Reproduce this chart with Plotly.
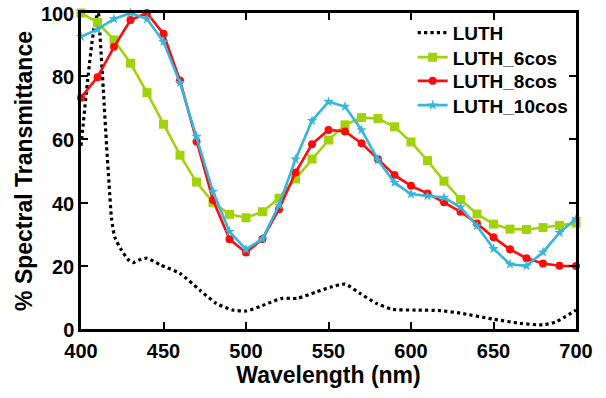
import plotly.graph_objects as go

wl = list(range(400, 701, 10))

luth_6cos = [100, 97.0, 91.5, 84.1, 74.8, 64.8, 55.0, 46.5, 40.0, 36.3, 35.2, 37.1, 41.4, 47.5,
             53.8, 59.8, 64.6, 66.9, 66.6, 64.0, 59.2, 53.3, 46.8, 41.0, 36.4, 33.2, 31.6, 31.5,
             32.1, 32.8, 33.5]
luth_8cos = [73.2, 79.7, 89.3, 97.8, 100, 93.4, 78.6, 59.3, 40.8, 28.4, 24.2, 28.5, 37.9, 49.5,
             58.5, 63.0, 62.5, 58.8, 53.7, 48.7, 45.3, 42.9, 40.1, 37.1, 33.4, 29.0, 25.2, 22.4,
             20.7, 20.0, 19.9]
luth_10cos = [92.5, 94.8, 98.1, 100, 98.1, 90.9, 77.9, 60.9, 43.5, 30.8, 25.2, 28.5, 39.2, 53.7,
              65.9, 71.9, 70.4, 63.0, 53.5, 46.3, 42.7, 42.1, 41.6, 38.5, 32.6, 25.4, 20.5, 20.0,
              24.3, 30.5, 34.8]

luth_wl = [400, 401, 402.5, 404.5, 406.5, 408.5, 410.5, 411.5, 413.5, 415.5, 417, 418.5, 420.5,
           424.5, 428.5, 431.5, 435, 440, 448, 460, 472, 482, 492, 500, 508.5, 515, 522, 531,
           543, 551, 560, 569, 579, 589, 603, 618, 630, 650, 666, 680, 688, 700]
luth = [58, 63, 71, 81, 90, 97, 100, 93, 76, 58, 46, 35, 29, 25, 22, 21, 21.8, 22.4, 20.3, 17.6,
        12.3, 8.1, 6.0, 5.7, 7.1, 8.5, 9.7, 9.7, 11.8, 13.2, 14.2, 11.3, 8.1, 6.2, 6.0, 5.8,
        5.0, 3.1, 1.8, 1.3, 2.3, 6.0]

x_ticks = [400, 450, 500, 550, 600, 650, 700]
y_ticks = [0, 20, 40, 60, 80, 100]

GREEN = "#A2D20A"
RED = "#FF0A0A"
BLUE = "#35B6DE"
FONT = "Liberation Sans, Arial, sans-serif"

fig = go.Figure()
fig.add_trace(go.Scatter(x=luth_wl, y=luth, name="LUTH", mode="lines", legend="legend",
                         line=dict(color="black", width=3.2, dash="dot", shape="spline", smoothing=0.6),
                         cliponaxis=False))
fig.add_trace(go.Scatter(x=wl, y=luth_6cos, name="LUTH_6cos", mode="lines+markers", legend="legend2",
                         line=dict(color=GREEN, width=2.6),
                         marker=dict(symbol="square", size=9, color=GREEN),
                         cliponaxis=False))
fig.add_trace(go.Scatter(x=wl, y=luth_8cos, name="LUTH_8cos", mode="lines+markers", legend="legend3",
                         line=dict(color=RED, width=2.6),
                         marker=dict(symbol="circle", size=8, color=RED),
                         cliponaxis=False))
fig.add_trace(go.Scatter(x=wl, y=luth_10cos, name="LUTH_10cos", mode="lines+markers", legend="legend4",
                         line=dict(color=BLUE, width=2.6),
                         marker=dict(symbol="star", size=8, color=BLUE),
                         cliponaxis=False))

axis_common = dict(showline=True, linecolor="black", linewidth=2.5, mirror="ticks",
                   ticks="inside", ticklen=7, tickwidth=2, tickcolor="black",
                   showgrid=False, zeroline=False, automargin=False,
                   ticklabeloverflow="allow",
                   tickfont=dict(family=FONT, size=20, color="black"))

fig.update_xaxes(range=[400, 700], tickvals=x_ticks, ticktext=[str(v) for v in x_ticks],
                 ticklabelstandoff=2,
                 title=dict(text="<b>Wavelength (nm)</b>", font=dict(family=FONT, size=23, color="black"),
                            standoff=6),
                 **axis_common)
fig.update_yaxes(range=[0, 100], tickvals=y_ticks, ticktext=[str(v) for v in y_ticks],
                 ticklabelshift=1,
                 title=dict(text="<b>% Spectral Transmittance</b>", font=dict(family=FONT, size=23, color="black"),
                            standoff=2),
                 **axis_common)

legend_font = dict(family=FONT, size=19, color="black", weight="bold")
legend_common = dict(x=0.67, xanchor="left", yanchor="middle", bgcolor="rgba(0,0,0,0)",
                     font=legend_font, itemwidth=30)

fig.update_layout(
    width=606, height=398,
    margin=dict(l=81, r=30, t=13, b=69),
    paper_bgcolor="white", plot_bgcolor="white",
    font=dict(family=FONT, size=19, color="black", weight="bold"),
    showlegend=True,
    legend=dict(y=0.9377, **legend_common),
    legend2=dict(y=0.8598, **legend_common),
    legend3=dict(y=0.7848, **legend_common),
    legend4=dict(y=0.7079, **legend_common),
)

# remove the browser's default 8px body margin so the figure sits at the page origin
fig.write_html("out.html",
               config={"displayModeBar": False},
               post_script="document.body.style.margin='0';document.body.style.overflow='hidden';")
